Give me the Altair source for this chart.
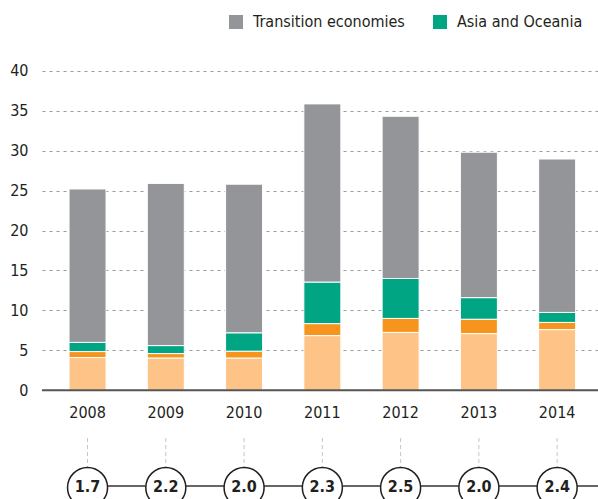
import altair as alt
import pandas as pd

years = [2008, 2009, 2010, 2011, 2012, 2013, 2014]
series_names = ["Other developing economies", "Latin America and the Caribbean",
                "Asia and Oceania", "Transition economies"]
light_vals = [4.1, 4.05, 4.05, 6.85, 7.25, 7.1, 7.6]
orange_vals = [0.75, 0.55, 0.85, 1.5, 1.75, 1.8, 0.9]
asia_vals = [1.15, 1.0, 2.3, 5.2, 5.0, 2.7, 1.25]
transition_vals = [19.2, 20.3, 18.6, 22.3, 20.3, 18.2, 19.2]
ratios = [1.7, 2.2, 2.0, 2.3, 2.5, 2.0, 2.4]
y_ticks = [0, 5, 10, 15, 20, 25, 30, 35, 40]
legend_items = ["Transition economies", "Asia and Oceania"]
colors = ["#FDC387", "#F7941D", "#00A683", "#939598"]

FONT = "DejaVu Sans Condensed, sans-serif"

rows = []
for i, y in enumerate(years):
    for k, vals in enumerate([light_vals, orange_vals, asia_vals, transition_vals]):
        rows.append({"year": y, "series": series_names[k], "value": vals[i], "order": k})
bars_df = pd.DataFrame(rows)
years_df = pd.DataFrame({"year": years, "ratio": ratios,
                         "label": [f"{r:.1f}" for r in ratios]})

xscale = alt.Scale(domain=[2007.482, 2014.458], nice=False, zero=False)
yscale = alt.Scale(domain=[-13.6, 48.85], nice=False, zero=False)

bars = alt.Chart(bars_df).mark_bar(size=37, stroke="white", strokeWidth=1).encode(
    x=alt.X("year:Q", scale=xscale, axis=None),
    y=alt.Y("value:Q", stack="zero", scale=yscale,
            axis=alt.Axis(values=y_ticks, grid=True, gridDash=[3, 4], gridColor="#9a9a9a",
                          gridWidth=1, domain=False, ticks=False, labelPadding=14,
                          labelFont=FONT, labelFontSize=16, labelColor="#231f20", title=None)),
    color=alt.Color("series:N", scale=alt.Scale(domain=series_names, range=colors),
                    legend=alt.Legend(values=legend_items, orient="none", legendX=186, legendY=14,
                                      direction="horizontal", title=None, symbolType="square",
                                      symbolSize=196, symbolStrokeWidth=0, labelFont=FONT,
                                      labelFontSize=16, labelColor="#231f20", labelOffset=9,
                                      labelLimit=0, columnPadding=27)),
    order=alt.Order("order:Q"),
)

zero_line = alt.Chart(pd.DataFrame({"v": [0]})).mark_rule(color="#555555", strokeWidth=2).encode(
    y=alt.Y("v:Q", scale=yscale)
)

year_labels = alt.Chart(years_df).mark_text(font=FONT, fontSize=16, color="#231f20",
                                            baseline="middle").encode(
    x=alt.X("year:Q", scale=xscale), y=alt.value(413), text="year:N"
)

dashes = alt.Chart(years_df).mark_rule(color="#c4c4c4", strokeDash=[4, 3], strokeWidth=1).encode(
    x=alt.X("year:Q", scale=xscale), y=alt.value(438), y2=alt.value(467)
)

hline = alt.Chart(years_df.head(1)).mark_rule(color="#333333", strokeWidth=1.5).encode(
    x=alt.X("year:Q", scale=xscale), x2=alt.value(560), y=alt.value(486)
)

circles = alt.Chart(years_df).mark_point(shape="circle", filled=False, fill="white", fillOpacity=1,
                                         stroke="#231f20", strokeWidth=1.5, size=1600, opacity=1).encode(
    x=alt.X("year:Q", scale=xscale), y=alt.value(487.5)
)

circle_text = alt.Chart(years_df).mark_text(font=FONT, fontSize=16, fontWeight="bold",
                                            color="#231f20", baseline="middle").encode(
    x=alt.X("year:Q", scale=xscale), y=alt.value(487), text="label:N"
)

chart = alt.layer(bars, zero_line, year_labels, dashes, hline, circles, circle_text).properties(
    width=556, height=499,
    autosize=alt.AutoSizeParams(type="none"),
    padding={"left": 42, "top": 0, "right": 0, "bottom": 0},
).configure_view(stroke=None)

chart.save("out.html", embed_options={"renderer": "svg", "actions": False})
